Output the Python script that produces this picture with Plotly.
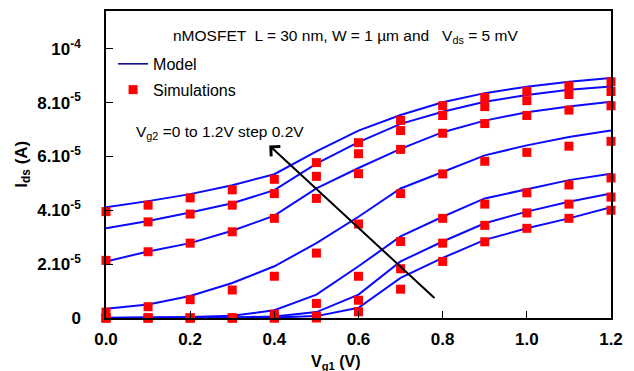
import plotly.graph_objects as go

# Gate voltage Vg1 (V)
vg1 = [0.0, 0.1, 0.2, 0.3, 0.4, 0.5, 0.6, 0.7, 0.8, 0.9, 1.0, 1.1, 1.2]
vg2_labels = ["1.2", "1.0", "0.8", "0.6", "0.4", "0.2", "0.0"]

# Model curves, Ids in units of 1e-5 A (Vg2 = 1.2 down to 0.0)
model_vg2_12 = [4.11, 4.34, 4.60, 4.93, 5.34, 6.19, 6.96, 7.54, 8.01, 8.35, 8.59, 8.77, 8.91]
model_vg2_10 = [3.33, 3.60, 3.92, 4.26, 4.75, 5.73, 6.53, 7.21, 7.66, 8.03, 8.28, 8.48, 8.60]
model_vg2_08 = [2.10, 2.47, 2.78, 3.24, 3.80, 4.81, 5.57, 6.28, 6.90, 7.33, 7.64, 7.85, 8.03]
model_vg2_06 = [0.34, 0.50, 0.82, 1.30, 1.92, 2.78, 3.76, 4.81, 5.42, 6.04, 6.41, 6.72, 6.96]
model_vg2_04 = [0.01, 0.02, 0.04, 0.08, 0.29, 0.87, 1.92, 3.03, 3.76, 4.44, 4.79, 5.12, 5.36]
model_vg2_02 = [0.00, 0.00, 0.01, 0.02, 0.06, 0.22, 0.87, 2.10, 2.84, 3.52, 3.95, 4.32, 4.62]
model_vg2_00 = [0.00, 0.00, 0.00, 0.01, 0.02, 0.07, 0.38, 1.49, 2.23, 2.90, 3.33, 3.70, 4.11]

# Simulation points, Ids in units of 1e-5 A
sim_vg2_12 = [3.95, 4.19, 4.46, 4.76, 5.15, 5.77, 6.51, 7.34, 7.88, 8.19, 8.42, 8.62, 8.77]
sim_vg2_10 = [None, 3.57, 3.86, 4.19, 4.62, 5.26, 6.10, 6.96, 7.52, 7.85, 8.07, 8.30, 8.41]
sim_vg2_08 = [2.14, 2.46, 2.78, 3.20, 3.70, 4.44, 5.36, 6.26, 6.86, 7.22, 7.52, 7.72, 7.88]
sim_vg2_06 = [0.22, 0.42, 0.68, 1.04, 1.55, 2.41, 3.49, 4.62, 5.35, 5.82, 6.15, 6.38, 6.56]
sim_vg2_04 = [0.00, 0.00, 0.00, 0.00, 0.14, 0.54, 1.55, 2.84, 3.70, 4.23, 4.65, 4.94, 5.20]
sim_vg2_02 = [0.00, 0.00, 0.00, 0.00, 0.00, 0.07, 0.66, 1.83, 2.78, 3.44, 3.90, 4.23, 4.49]
sim_vg2_00 = [0.00, 0.00, 0.00, 0.00, 0.00, 0.00, 0.23, 1.07, 2.10, 2.83, 3.33, 3.70, 4.00]

y_tickvals = [0, 2e-5, 4e-5, 6e-5, 8e-5, 1e-4]
y_ticktext = ["0", "2.10<sup>-5</sup>", "4.10<sup>-5</sup>", "6.10<sup>-5</sup>",
              "8.10<sup>-5</sup>", "10<sup>-4</sup>"]
x_tickvals = [0.0, 0.2, 0.4, 0.6, 0.8, 1.0, 1.2]
x_ticktext = ["0.0", "0.2", "0.4", "0.6", "0.8", "1.0", "1.2"]

SCALE = 1e-5
FONT = "Liberation Sans, Arial, sans-serif"

models = [model_vg2_12, model_vg2_10, model_vg2_08, model_vg2_06,
          model_vg2_04, model_vg2_02, model_vg2_00]
sims = [sim_vg2_12, sim_vg2_10, sim_vg2_08, sim_vg2_06,
        sim_vg2_04, sim_vg2_02, sim_vg2_00]

fig = go.Figure()

for lab, m in zip(vg2_labels, models):
    fig.add_trace(go.Scatter(
        x=vg1, y=[v * SCALE for v in m], mode="lines",
        line=dict(color="#0a0aff", width=2), showlegend=False,
        name=f"Model Vg2={lab}", cliponaxis=False))

for lab, s in zip(vg2_labels, sims):
    fig.add_trace(go.Scatter(
        x=vg1, y=[None if v is None else v * SCALE for v in s], mode="markers",
        marker=dict(symbol="square", size=9, color="#ff0000"),
        showlegend=False, name=f"Simulations Vg2={lab}", cliponaxis=False))

# legend entries
fig.add_trace(go.Scatter(x=[None], y=[None], mode="lines",
                         line=dict(color="#000080", width=1.5),
                         name="Model", legendgroup="a"))
fig.add_trace(go.Scatter(x=[None], y=[None], mode="markers",
                         marker=dict(symbol="square", size=9, color="#ff0000"),
                         name="Simulations", legendgroup="b"))

fig.update_layout(
    width=634, height=371,
    margin=dict(l=98, r=31, t=1, b=61),
    paper_bgcolor="white", plot_bgcolor="white",
    font=dict(family=FONT, color="black"),
    showlegend=True,
    legend=dict(x=0.014, y=0.883, xanchor="left", yanchor="top",
                font=dict(size=16, family=FONT), bgcolor="rgba(0,0,0,0)",
                tracegroupgap=2, itemwidth=30),
    xaxis=dict(range=[0, 1.2], tickvals=x_tickvals, ticktext=x_ticktext,
               ticks="inside", ticklen=7, tickcolor="black",
               showline=True, linecolor="black", linewidth=1.5, mirror=True,
               showgrid=False, zeroline=False, ticklabelstandoff=5,
               tickfont=dict(size=17, family=FONT, weight="bold")),
    yaxis=dict(range=[0, 11.4e-5], tickvals=y_tickvals, ticktext=y_ticktext,
               ticks="inside", ticklen=7, tickcolor="black",
               showline=True, linecolor="black", linewidth=1.5, mirror=True,
               showgrid=False, zeroline=False, ticklabelstandoff=20,
               tickfont=dict(size=17, family=FONT, weight="bold")),
)

annotations = [
    dict(text="nMOSFET  L = 30 nm, W = 1 µm and   V<sub>ds</sub> = 5 mV",
         xref="paper", yref="paper", x=0.474, y=0.916, showarrow=False,
         xanchor="center", yanchor="middle", font=dict(size=15.5, family=FONT)),
    dict(text="V<sub>g2</sub> =0 to 1.2V step 0.2V",
         xref="paper", yref="paper", x=0.0554, y=0.605, showarrow=False,
         xanchor="left", yanchor="middle", font=dict(size=15.5, family=FONT)),
    dict(text="V<sub>g1</sub> (V)", xref="paper", yref="paper",
         x=0.455, y=-0.146, showarrow=False, xanchor="center", yanchor="middle",
         font=dict(size=16, family=FONT, weight="bold")),
    dict(text="I<sub>ds</sub> (A)", xref="paper", yref="paper",
         x=-0.166, y=0.5, showarrow=False, textangle=-90,
         xanchor="center", yanchor="middle",
         font=dict(size=17, family=FONT, weight="bold")),
    dict(text="", x=0.388, y=6.41 * SCALE, ax=0.784, ay=0.69 * SCALE,
         xref="x", yref="y", axref="x", ayref="y", showarrow=True,
         arrowhead=4, arrowsize=1.3, arrowwidth=2, arrowcolor="black"),
]
fig.update_layout(annotations=annotations)

fig.write_html("out.html")
